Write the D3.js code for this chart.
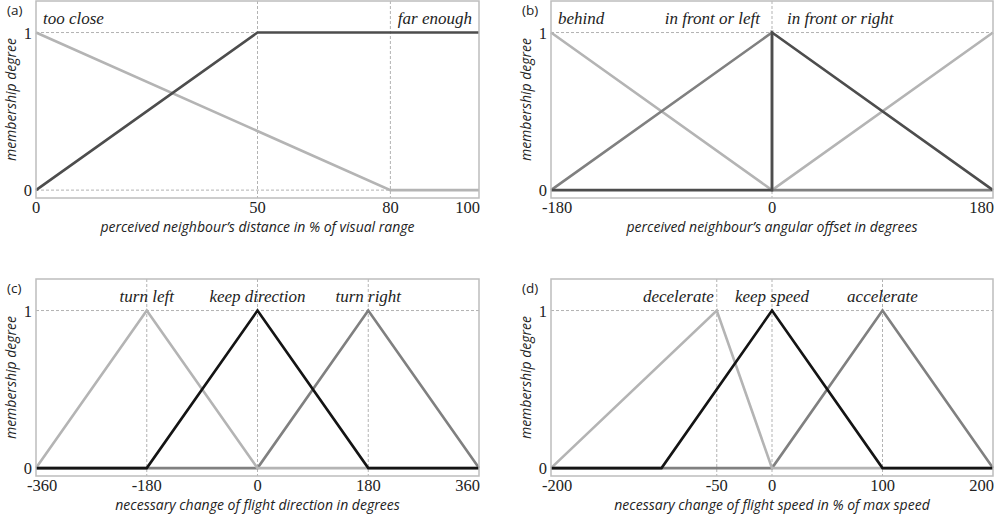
<!DOCTYPE html>
<html>
<head>
<meta charset="utf-8">
<title>Fuzzy membership functions</title>
<script src="https://cdn.jsdelivr.net/npm/d3@7"></script>
<style>
  body { margin: 0; background: #fff; }
  .tick-label { font-family: "Times New Roman", "Liberation Serif", Tinos, "Noto Serif", "DejaVu Serif", FreeSerif, serif; font-size: 16.5px; fill: #222; }
  .region { font-family: "Times New Roman", "Liberation Serif", Tinos, "Noto Serif", "DejaVu Serif", FreeSerif, serif; font-style: italic; font-size: 17px; fill: #222; }
  .axis-title { font-family: "Open Sans", sans-serif; font-style: italic; font-size: 14px; fill: #222; }
  .panel-tag { font-family: "Open Sans", sans-serif; font-size: 13.5px; fill: #222; }
</style>
</head>
<body>
<svg id="chart" width="998" height="520"></svg>
<script>
// ---- data ----
// (a) distance
var distTicks = [0, 50, 80, 100];
var tooClose = [[0, 1], [80, 0], [100, 0]];
var farEnough = [[0, 0], [50, 1], [100, 1]];

// (b) angular offset
var angleTicks = [-180, 0, 180];
var behind = [[-180, 1], [0, 0], [180, 1]];
var frontLeft = [[-180, 0], [0, 1], [0, 0], [180, 0]];
var frontRight = [[-180, 0], [0, 0], [0, 1], [180, 0]];

// (c) direction change
var dirTicks = [-360, -180, 0, 180, 360];
var turnLeft = [[-360, 0], [-180, 1], [0, 0], [360, 0]];
var keepDirection = [[-360, 0], [-180, 0], [0, 1], [180, 0], [360, 0]];
var turnRight = [[-360, 0], [0, 0], [180, 1], [360, 0]];

// (d) speed change
var speedTicks = [-200, -50, 0, 100, 200];
var decelerate = [[-200, 0], [-50, 1], [0, 0], [200, 0]];
var keepSpeed = [[-200, 0], [-100, 0], [0, 1], [100, 0], [200, 0]];
var accelerate = [[-200, 0], [0, 0], [100, 1], [200, 0]];

var light = "#b4b4b4", mid = "#808080", dark = "#4d4d4d", black = "#141414";

var panels = [
  { tag: "(a)", x0: 36, x1: 479, y0: 1, y1: 198, ticks: distTicks,
    title: "perceived neighbour\u2019s distance in % of visual range",
    series: [{ d: tooClose, c: light }, { d: farEnough, c: dark }],
    labels: [{ t: "too close", x: 0, a: "start", dx: 7 }, { t: "far enough", x: 100, a: "end", dx: -7 }] },
  { tag: "(b)", x0: 551, x1: 993, y0: 1, y1: 198, ticks: angleTicks,
    title: "perceived neighbour\u2019s angular offset in degrees",
    series: [{ d: behind, c: light }, { d: frontLeft, c: mid }, { d: frontRight, c: dark }],
    labels: [{ t: "behind", x: -180, a: "start", dx: 7 }, { t: "in front or left", x: 0, a: "end", dx: -12 },
             { t: "in front or right", x: 0, a: "start", dx: 15 }] },
  { tag: "(c)", x0: 36, x1: 479, y0: 279, y1: 476, ticks: dirTicks,
    title: "necessary change of flight direction in degrees",
    series: [{ d: turnRight, c: mid }, { d: turnLeft, c: light }, { d: keepDirection, c: black }],
    labels: [{ t: "turn left", x: -180, a: "middle", dx: 0 }, { t: "keep direction", x: 0, a: "middle", dx: 0 },
             { t: "turn right", x: 180, a: "middle", dx: 0 }] },
  { tag: "(d)", x0: 551, x1: 993, y0: 279, y1: 476, ticks: speedTicks,
    title: "necessary change of flight speed in % of max speed",
    series: [{ d: accelerate, c: mid }, { d: decelerate, c: light }, { d: keepSpeed, c: black }],
    labels: [{ t: "decelerate", x: -50, a: "end", dx: -3 }, { t: "keep speed", x: 0, a: "middle", dx: 0 },
             { t: "accelerate", x: 100, a: "middle", dx: 0 }] }
];

var svg = d3.select("#chart");

panels.forEach(function(p) {
  var x = d3.scaleLinear().domain(d3.extent(p.ticks)).range([p.x0, p.x1]);
  var y = d3.scaleLinear().domain([-0.05, 1.2]).range([p.y1, p.y0]);
  var g = svg.append("g");

  // dashed guide lines
  [0, 1].forEach(function(v) {
    g.append("line").attr("x1", p.x0).attr("x2", p.x1).attr("y1", y(v)).attr("y2", y(v))
      .attr("stroke", "#aaa").attr("stroke-width", 0.9).attr("stroke-dasharray", "3,2");
  });
  p.ticks.slice(1, -1).forEach(function(v) {
    g.append("line").attr("x1", x(v)).attr("x2", x(v)).attr("y1", p.y0).attr("y2", p.y1)
      .attr("stroke", "#aaa").attr("stroke-width", 0.9).attr("stroke-dasharray", "3,2");
  });

  // membership lines
  var line = d3.line().x(function(d) { return x(d[0]); }).y(function(d) { return y(d[1]); });
  p.series.forEach(function(s) {
    g.append("path").attr("d", line(s.d)).attr("fill", "none")
      .attr("stroke", s.c).attr("stroke-width", 2.6).attr("stroke-linejoin", "miter");
  });

  // frame
  g.append("rect").attr("x", p.x0).attr("y", p.y0).attr("width", p.x1 - p.x0).attr("height", p.y1 - p.y0)
    .attr("fill", "none").attr("stroke", "#bdbdbd").attr("stroke-width", 1.5);

  // x tick labels, kept inside the panel edges
  p.ticks.forEach(function(v) {
    var t = g.append("text").attr("class", "tick-label").attr("text-anchor", "middle")
      .attr("x", x(v)).attr("y", p.y1 + 15).text(v);
    var b = t.node().getBBox();
    if (b.x < p.x0 - 9) t.attr("x", x(v) + (p.x0 - 9 - b.x));
    if (b.x + b.width > p.x1 + 1) t.attr("x", x(v) - (b.x + b.width - p.x1 - 1));
  });

  // y tick labels
  [0, 1].forEach(function(v) {
    g.append("text").attr("class", "tick-label").attr("text-anchor", "end")
      .attr("x", p.x0 - 4).attr("y", y(v) + 6).text(v);
  });

  // region labels
  p.labels.forEach(function(l) {
    g.append("text").attr("class", "region").attr("text-anchor", l.a)
      .attr("x", x(l.x) + l.dx).attr("y", p.y0 + 23).text(l.t);
  });

  // titles
  g.append("text").attr("class", "axis-title").attr("text-anchor", "middle")
    .attr("x", (p.x0 + p.x1) / 2).attr("y", p.y1 + 34).text(p.title);
  g.append("text").attr("class", "axis-title").attr("text-anchor", "middle")
    .attr("transform", "translate(" + (p.x0 - 20) + "," + ((p.y0 + p.y1) / 2) + ") rotate(-90)")
    .text("membership degree");
  g.append("text").attr("class", "panel-tag").attr("x", p.x0 - 29).attr("y", p.y0 + 14).text(p.tag);
});
</script>
</body>
</html>
